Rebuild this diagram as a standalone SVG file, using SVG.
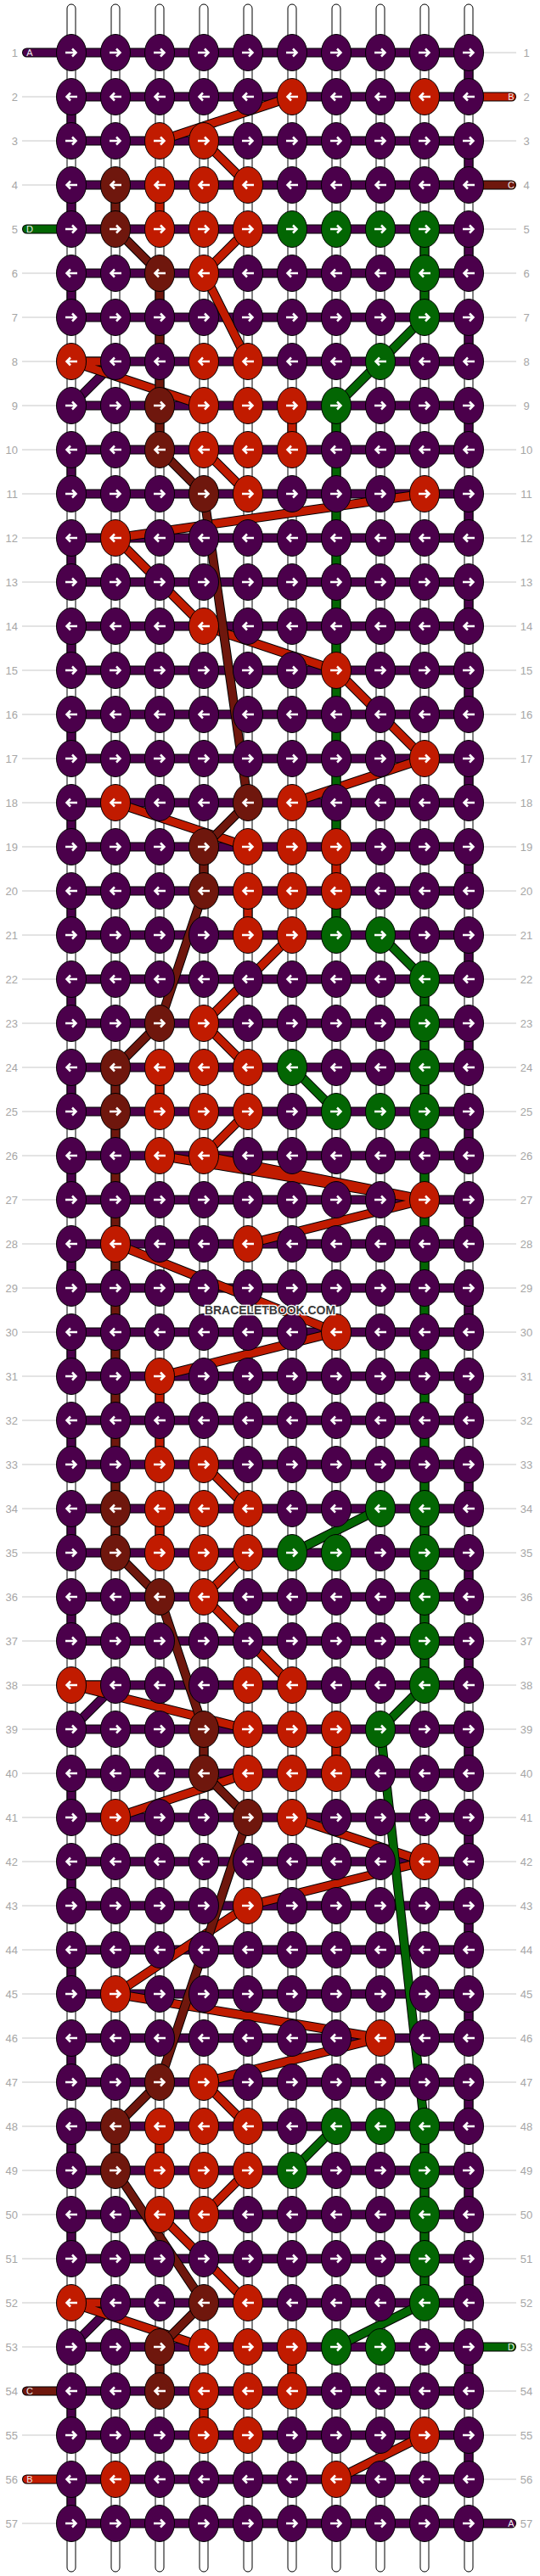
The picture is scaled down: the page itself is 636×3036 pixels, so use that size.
<svg xmlns="http://www.w3.org/2000/svg" xmlns:xlink="http://www.w3.org/1999/xlink" width="636" height="3036" viewBox="0 0 636 3036">
<style>
.num{font-family:"Liberation Sans",Arial,sans-serif;font-size:13px;fill:#a6a6a6}
.nl{text-anchor:end}
.nr{text-anchor:middle}
.lab{font-family:"Liberation Sans",Arial,sans-serif;font-size:11px;fill:#eee;text-anchor:middle}
.gl{stroke:#c8c8c8;stroke-width:1;fill:none}
.str{fill:#fff;stroke:#000;stroke-width:1}
.o{fill:none;stroke:#000;stroke-width:11}
.f{fill:none;stroke-width:9}
.lo{fill:none;stroke:#000;stroke-width:11;stroke-linecap:round}
.lf{fill:none;stroke-width:9;stroke-linecap:round}
.cP{stroke:#4b004b}.cR{stroke:#c11b00}.cB{stroke:#6f170d}.cG{stroke:#036603}
.ar{fill:none;stroke:#fff;stroke-width:2.5}
.wm{font-family:"Liberation Sans",Arial,sans-serif;font-size:14px;font-weight:bold;fill:#3a3a3a;stroke:#fff;stroke-width:2.5;paint-order:stroke;text-anchor:middle}
</style>
<defs>
<ellipse id="e" rx="17.5" ry="21.5" stroke="#000" stroke-width="1"/>
<path id="ar" class="ar" d="M-7,0H5.5M1,-4.5L5.5,0L1,4.5"/>
<path id="al" class="ar" d="M7,0H-5.5M-1,-4.5L-5.5,0L-1,4.5"/>
<g id="PR"><use href="#e" fill="#4b004b"/><use href="#ar"/></g>
<g id="PL"><use href="#e" fill="#4b004b"/><use href="#al"/></g>
<g id="RR"><use href="#e" fill="#c11b00"/><use href="#ar"/></g>
<g id="RL"><use href="#e" fill="#c11b00"/><use href="#al"/></g>
<g id="BR"><use href="#e" fill="#6f170d"/><use href="#ar"/></g>
<g id="BL"><use href="#e" fill="#6f170d"/><use href="#al"/></g>
<g id="GR"><use href="#e" fill="#036603"/><use href="#ar"/></g>
<g id="GL"><use href="#e" fill="#036603"/><use href="#al"/></g>
</defs>
<rect width="636" height="3036" fill="#fff"/>
<g id="guides">
<path class="gl" d="M26,114H66M26,166H66M26,218H66M26,322H66M26,374H66M26,426H66M26,478H66M26,530H66M26,582H66M26,634H66M26,686H66M26,738H66M26,790H66M26,842H66M26,894H66M26,946H66M26,998H66M26,1050H66M26,1102H66M26,1154H66M26,1206H66M26,1258H66M26,1310H66M26,1362H66M26,1414H66M26,1466H66M26,1518H66M26,1570H66M26,1622H66M26,1674H66M26,1726H66M26,1778H66M26,1830H66M26,1882H66M26,1934H66M26,1986H66M26,2038H66M26,2090H66M26,2142H66M26,2194H66M26,2246H66M26,2298H66M26,2350H66M26,2402H66M26,2454H66M26,2506H66M26,2558H66M26,2610H66M26,2662H66M26,2714H66M26,2766H66M26,2870H66M26,2974H66"/>
<path class="gl" d="M570,62H608M570,166H608M570,270H608M570,322H608M570,374H608M570,426H608M570,478H608M570,530H608M570,582H608M570,634H608M570,686H608M570,738H608M570,790H608M570,842H608M570,894H608M570,946H608M570,998H608M570,1050H608M570,1102H608M570,1154H608M570,1206H608M570,1258H608M570,1310H608M570,1362H608M570,1414H608M570,1466H608M570,1518H608M570,1570H608M570,1622H608M570,1674H608M570,1726H608M570,1778H608M570,1830H608M570,1882H608M570,1934H608M570,1986H608M570,2038H608M570,2090H608M570,2142H608M570,2194H608M570,2246H608M570,2298H608M570,2350H608M570,2402H608M570,2454H608M570,2506H608M570,2558H608M570,2610H608M570,2662H608M570,2714H608M570,2818H608M570,2870H608M570,2922H608"/>
</g>
<g id="strings">
<rect class="str" x="79" y="5" width="10" height="3026" rx="5"/>
<rect class="str" x="131" y="5" width="10" height="3026" rx="5"/>
<rect class="str" x="183" y="5" width="10" height="3026" rx="5"/>
<rect class="str" x="235" y="5" width="10" height="3026" rx="5"/>
<rect class="str" x="287" y="5" width="10" height="3026" rx="5"/>
<rect class="str" x="339" y="5" width="10" height="3026" rx="5"/>
<rect class="str" x="391" y="5" width="10" height="3026" rx="5"/>
<rect class="str" x="443" y="5" width="10" height="3026" rx="5"/>
<rect class="str" x="495" y="5" width="10" height="3026" rx="5"/>
<rect class="str" x="547" y="5" width="10" height="3026" rx="5"/>
</g>
<g id="connectors">
<path class="o" d="M84,62H552M84,114H552M84,166H552M84,218H552M84,270H552M84,322H552M84,374H552M84,426H552M84,478H552M84,530H552M84,582H552M84,634H552M84,686H552M84,738H552M84,790H552M84,842H552M84,894H552M84,946H552M84,998H552M84,1050H552M84,1102H552M84,1154H552M84,1206H552M84,1258H552M84,1310H552M84,1362H552M84,1414H552M84,1466H552M84,1518H552M84,1570H552M84,1622H552M84,1674H552M84,1726H552M84,1778H552M84,1830H552M84,1882H552M84,1934H552M84,1986H552M84,2038H552M84,2090H552M84,2142H552M84,2194H552M84,2246H552M84,2298H552M84,2350H552M84,2402H552M84,2454H552M84,2506H552M84,2558H552M84,2610H552M84,2662H552M84,2714H552M84,2766H552M84,2818H552M84,2870H552M84,2922H552M84,2974H552"/>
<path class="f cP" d="M84,62H552M84,114H552M84,166H552M84,218H552M84,270H552M84,322H552M84,374H552M84,426H552M84,478H552M84,530H552M84,582H552M84,634H552M84,686H552M84,738H552M84,790H552M84,842H552M84,894H552M84,946H552M84,998H552M84,1050H552M84,1102H552M84,1154H552M84,1206H552M84,1258H552M84,1310H552M84,1362H552M84,1414H552M84,1466H552M84,1518H552M84,1570H552M84,1622H552M84,1674H552M84,1726H552M84,1778H552M84,1830H552M84,1882H552M84,1934H552M84,1986H552M84,2038H552M84,2090H552M84,2142H552M84,2194H552M84,2246H552M84,2298H552M84,2350H552M84,2402H552M84,2454H552M84,2506H552M84,2558H552M84,2610H552M84,2662H552M84,2714H552M84,2766H552M84,2818H552M84,2870H552M84,2922H552M84,2974H552"/>
<g id="turnsA">
<path class="o" d="M552,62V114M552,166V218M552,270V322M552,374V426M552,478V530M552,582V634M552,686V738M552,790V842M552,894V946M552,998V1050M552,1102V1154M552,1206V1258M552,1310V1362M552,1414V1466M552,1518V1570M552,1622V1674M552,1726V1778M552,1830V1882M552,1934V1986M552,2038V2090M552,2142V2194M552,2246V2298M552,2350V2402M552,2454V2506M552,2558V2610M552,2662V2714M552,2766V2818M552,2870V2922M84,114V166M84,218V270M84,322V374M84,530V582M84,634V686M84,738V790M84,842V894M84,946V998M84,1050V1102M84,1154V1206M84,1258V1310M84,1362V1414M84,1466V1518M84,1570V1622M84,1674V1726M84,1778V1830M84,1882V1934M84,2090V2142M84,2194V2246M84,2298V2350M84,2402V2454M84,2506V2558M84,2610V2662M84,2818V2870M84,2922V2974M136,426L84,478M136,1986L84,2038M136,2714L84,2766"/>
<path class="f cP" d="M552,62V114M552,166V218M552,270V322M552,374V426M552,478V530M552,582V634M552,686V738M552,790V842M552,894V946M552,998V1050M552,1102V1154M552,1206V1258M552,1310V1362M552,1414V1466M552,1518V1570M552,1622V1674M552,1726V1778M552,1830V1882M552,1934V1986M552,2038V2090M552,2142V2194M552,2246V2298M552,2350V2402M552,2454V2506M552,2558V2610M552,2662V2714M552,2766V2818M552,2870V2922M84,114V166M84,218V270M84,322V374M84,530V582M84,634V686M84,738V790M84,842V894M84,946V998M84,1050V1102M84,1154V1206M84,1258V1310M84,1362V1414M84,1466V1518M84,1570V1622M84,1674V1726M84,1778V1830M84,1882V1934M84,2090V2142M84,2194V2246M84,2298V2350M84,2402V2454M84,2506V2558M84,2610V2662M84,2818V2870M84,2922V2974M136,426L84,478M136,1986L84,2038M136,2714L84,2766"/>
</g>
<g id="threadB">
<path class="o" d="M344,114L188,166M240,166L292,218M292,270L240,322M240,322L292,426M84,426H136M84,426L240,478M240,530L292,582M500,582L136,634M136,634L240,738M240,738L396,790M396,790L500,894M500,894L344,946M136,946L292,998M344,1102L240,1206M240,1206L292,1258M292,1310L240,1362M188,1362L500,1414M240,1362L500,1414M500,1414L292,1466M136,1466L396,1570M396,1570L188,1622M240,1726L292,1778M292,1830L240,1882M240,1882L344,1986M84,1986H136M84,1986L292,2038M292,2090L136,2142M344,2142L500,2194M500,2194L292,2246M292,2246L136,2350M136,2350L448,2402M448,2402L240,2454M240,2454L292,2506M292,2558L240,2610M188,2610L292,2714M84,2714H136M84,2714L240,2766M500,2870L396,2922M188,218V270M344,478V530M396,998V1050M292,1050V1102M188,1258V1310M188,1622V1726M188,1778V1830M396,2038V2090M188,2506V2558M344,2766V2818M240,2818V2870"/>
<path class="f cR" d="M344,114L188,166M240,166L292,218M292,270L240,322M240,322L292,426M84,426H136M84,426L240,478M240,530L292,582M500,582L136,634M136,634L240,738M240,738L396,790M396,790L500,894M500,894L344,946M136,946L292,998M344,1102L240,1206M240,1206L292,1258M292,1310L240,1362M188,1362L500,1414M240,1362L500,1414M500,1414L292,1466M136,1466L396,1570M396,1570L188,1622M240,1726L292,1778M292,1830L240,1882M240,1882L344,1986M84,1986H136M84,1986L292,2038M292,2090L136,2142M344,2142L500,2194M500,2194L292,2246M292,2246L136,2350M136,2350L448,2402M448,2402L240,2454M240,2454L292,2506M292,2558L240,2610M188,2610L292,2714M84,2714H136M84,2714L240,2766M500,2870L396,2922M188,218V270M344,478V530M396,998V1050M292,1050V1102M188,1258V1310M188,1622V1726M188,1778V1830M396,2038V2090M188,2506V2558M344,2766V2818M240,2818V2870"/>
</g>
<g id="threadC">
<path class="o" d="M136,218V270L188,322V530L240,582L292,946L240,998V1050L188,1206L136,1258V1830L188,1882L240,2038V2090L292,2142L188,2454L136,2506V2558L240,2714L188,2766V2818"/>
<path class="f cB" d="M136,218V270L188,322V530L240,582L292,946L240,998V1050L188,1206L136,1258V1830L188,1882L240,2038V2090L292,2142L188,2454L136,2506V2558L240,2714L188,2766V2818"/>
</g>
<g id="threadD">
<path class="o" d="M500,270V374L448,426L396,478V998M396,1050V1102M448,1102L500,1154V1986M344,1258L396,1310M448,1778L344,1830M500,1986L448,2038L500,2506V2714L396,2766M396,2506L344,2558"/>
<path class="f cG" d="M500,270V374L448,426L396,478V998M396,1050V1102M448,1102L500,1154V1986M344,1258L396,1310M448,1778L344,1830M500,1986L448,2038L500,2506V2714L396,2766M396,2506L344,2558"/>
</g>
<g id="ends">
<path class="lo" d="M31.5,62H84M552,114H602.5M552,218H602.5M31.5,270H84M552,2766H602.5M31.5,2818H84M31.5,2922H84M552,2974H602.5"/>
<path class="lf cP" d="M31.5,62H84M552,2974H602.5"/>
<path class="lf cR" d="M552,114H602.5M31.5,2922H84"/>
<path class="lf cB" d="M552,218H602.5M31.5,2818H84"/>
<path class="lf cG" d="M31.5,270H84M552,2766H602.5"/>
</g>
</g>
<g id="nodes">
<g id="row1">
<g id="n1-1"><use href="#PR" x="84" y="62"/></g><g id="n1-2"><use href="#PR" x="136" y="62"/></g><g id="n1-3"><use href="#PR" x="188" y="62"/></g><g id="n1-4"><use href="#PR" x="240" y="62"/></g><g id="n1-5"><use href="#PR" x="292" y="62"/></g><g id="n1-6"><use href="#PR" x="344" y="62"/></g><g id="n1-7"><use href="#PR" x="396" y="62"/></g><g id="n1-8"><use href="#PR" x="448" y="62"/></g><g id="n1-9"><use href="#PR" x="500" y="62"/></g><g id="n1-10"><use href="#PR" x="552" y="62"/></g>
</g>
<g id="row2">
<g id="n2-1"><use href="#PL" x="84" y="114"/></g><g id="n2-2"><use href="#PL" x="136" y="114"/></g><g id="n2-3"><use href="#PL" x="188" y="114"/></g><g id="n2-4"><use href="#PL" x="240" y="114"/></g><g id="n2-5"><use href="#PL" x="292" y="114"/></g><g id="n2-6"><use href="#RL" x="344" y="114"/></g><g id="n2-7"><use href="#PL" x="396" y="114"/></g><g id="n2-8"><use href="#PL" x="448" y="114"/></g><g id="n2-9"><use href="#RL" x="500" y="114"/></g><g id="n2-10"><use href="#PL" x="552" y="114"/></g>
</g>
<g id="row3">
<g id="n3-1"><use href="#PR" x="84" y="166"/></g><g id="n3-2"><use href="#PR" x="136" y="166"/></g><g id="n3-3"><use href="#RR" x="188" y="166"/></g><g id="n3-4"><use href="#RR" x="240" y="166"/></g><g id="n3-5"><use href="#PR" x="292" y="166"/></g><g id="n3-6"><use href="#PR" x="344" y="166"/></g><g id="n3-7"><use href="#PR" x="396" y="166"/></g><g id="n3-8"><use href="#PR" x="448" y="166"/></g><g id="n3-9"><use href="#PR" x="500" y="166"/></g><g id="n3-10"><use href="#PR" x="552" y="166"/></g>
</g>
<g id="row4">
<g id="n4-1"><use href="#PL" x="84" y="218"/></g><g id="n4-2"><use href="#BL" x="136" y="218"/></g><g id="n4-3"><use href="#RL" x="188" y="218"/></g><g id="n4-4"><use href="#RL" x="240" y="218"/></g><g id="n4-5"><use href="#RL" x="292" y="218"/></g><g id="n4-6"><use href="#PL" x="344" y="218"/></g><g id="n4-7"><use href="#PL" x="396" y="218"/></g><g id="n4-8"><use href="#PL" x="448" y="218"/></g><g id="n4-9"><use href="#PL" x="500" y="218"/></g><g id="n4-10"><use href="#PL" x="552" y="218"/></g>
</g>
<g id="row5">
<g id="n5-1"><use href="#PR" x="84" y="270"/></g><g id="n5-2"><use href="#BR" x="136" y="270"/></g><g id="n5-3"><use href="#RR" x="188" y="270"/></g><g id="n5-4"><use href="#RR" x="240" y="270"/></g><g id="n5-5"><use href="#RR" x="292" y="270"/></g><g id="n5-6"><use href="#GR" x="344" y="270"/></g><g id="n5-7"><use href="#GR" x="396" y="270"/></g><g id="n5-8"><use href="#GR" x="448" y="270"/></g><g id="n5-9"><use href="#GR" x="500" y="270"/></g><g id="n5-10"><use href="#PR" x="552" y="270"/></g>
</g>
<g id="row6">
<g id="n6-1"><use href="#PL" x="84" y="322"/></g><g id="n6-2"><use href="#PL" x="136" y="322"/></g><g id="n6-3"><use href="#BL" x="188" y="322"/></g><g id="n6-4"><use href="#RL" x="240" y="322"/></g><g id="n6-5"><use href="#PL" x="292" y="322"/></g><g id="n6-6"><use href="#PL" x="344" y="322"/></g><g id="n6-7"><use href="#PL" x="396" y="322"/></g><g id="n6-8"><use href="#PL" x="448" y="322"/></g><g id="n6-9"><use href="#GL" x="500" y="322"/></g><g id="n6-10"><use href="#PL" x="552" y="322"/></g>
</g>
<g id="row7">
<g id="n7-1"><use href="#PR" x="84" y="374"/></g><g id="n7-2"><use href="#PR" x="136" y="374"/></g><g id="n7-3"><use href="#PR" x="188" y="374"/></g><g id="n7-4"><use href="#PR" x="240" y="374"/></g><g id="n7-5"><use href="#PR" x="292" y="374"/></g><g id="n7-6"><use href="#PR" x="344" y="374"/></g><g id="n7-7"><use href="#PR" x="396" y="374"/></g><g id="n7-8"><use href="#PR" x="448" y="374"/></g><g id="n7-9"><use href="#GR" x="500" y="374"/></g><g id="n7-10"><use href="#PR" x="552" y="374"/></g>
</g>
<g id="row8">
<g id="n8-1"><use href="#RL" x="84" y="426"/></g><g id="n8-2"><use href="#PL" x="136" y="426"/></g><g id="n8-3"><use href="#PL" x="188" y="426"/></g><g id="n8-4"><use href="#RL" x="240" y="426"/></g><g id="n8-5"><use href="#RL" x="292" y="426"/></g><g id="n8-6"><use href="#PL" x="344" y="426"/></g><g id="n8-7"><use href="#PL" x="396" y="426"/></g><g id="n8-8"><use href="#GL" x="448" y="426"/></g><g id="n8-9"><use href="#PL" x="500" y="426"/></g><g id="n8-10"><use href="#PL" x="552" y="426"/></g>
</g>
<g id="row9">
<g id="n9-1"><use href="#PR" x="84" y="478"/></g><g id="n9-2"><use href="#PR" x="136" y="478"/></g><g id="n9-3"><use href="#BR" x="188" y="478"/></g><g id="n9-4"><use href="#RR" x="240" y="478"/></g><g id="n9-5"><use href="#RR" x="292" y="478"/></g><g id="n9-6"><use href="#RR" x="344" y="478"/></g><g id="n9-7"><use href="#GR" x="396" y="478"/></g><g id="n9-8"><use href="#PR" x="448" y="478"/></g><g id="n9-9"><use href="#PR" x="500" y="478"/></g><g id="n9-10"><use href="#PR" x="552" y="478"/></g>
</g>
<g id="row10">
<g id="n10-1"><use href="#PL" x="84" y="530"/></g><g id="n10-2"><use href="#PL" x="136" y="530"/></g><g id="n10-3"><use href="#BL" x="188" y="530"/></g><g id="n10-4"><use href="#RL" x="240" y="530"/></g><g id="n10-5"><use href="#RL" x="292" y="530"/></g><g id="n10-6"><use href="#RL" x="344" y="530"/></g><g id="n10-7"><use href="#PL" x="396" y="530"/></g><g id="n10-8"><use href="#PL" x="448" y="530"/></g><g id="n10-9"><use href="#PL" x="500" y="530"/></g><g id="n10-10"><use href="#PL" x="552" y="530"/></g>
</g>
<g id="row11">
<g id="n11-1"><use href="#PR" x="84" y="582"/></g><g id="n11-2"><use href="#PR" x="136" y="582"/></g><g id="n11-3"><use href="#PR" x="188" y="582"/></g><g id="n11-4"><use href="#BR" x="240" y="582"/></g><g id="n11-5"><use href="#RR" x="292" y="582"/></g><g id="n11-6"><use href="#PR" x="344" y="582"/></g><g id="n11-7"><use href="#PR" x="396" y="582"/></g><g id="n11-8"><use href="#PR" x="448" y="582"/></g><g id="n11-9"><use href="#RR" x="500" y="582"/></g><g id="n11-10"><use href="#PR" x="552" y="582"/></g>
</g>
<g id="row12">
<g id="n12-1"><use href="#PL" x="84" y="634"/></g><g id="n12-2"><use href="#RL" x="136" y="634"/></g><g id="n12-3"><use href="#PL" x="188" y="634"/></g><g id="n12-4"><use href="#PL" x="240" y="634"/></g><g id="n12-5"><use href="#PL" x="292" y="634"/></g><g id="n12-6"><use href="#PL" x="344" y="634"/></g><g id="n12-7"><use href="#PL" x="396" y="634"/></g><g id="n12-8"><use href="#PL" x="448" y="634"/></g><g id="n12-9"><use href="#PL" x="500" y="634"/></g><g id="n12-10"><use href="#PL" x="552" y="634"/></g>
</g>
<g id="row13">
<g id="n13-1"><use href="#PR" x="84" y="686"/></g><g id="n13-2"><use href="#PR" x="136" y="686"/></g><g id="n13-3"><use href="#PR" x="188" y="686"/></g><g id="n13-4"><use href="#PR" x="240" y="686"/></g><g id="n13-5"><use href="#PR" x="292" y="686"/></g><g id="n13-6"><use href="#PR" x="344" y="686"/></g><g id="n13-7"><use href="#PR" x="396" y="686"/></g><g id="n13-8"><use href="#PR" x="448" y="686"/></g><g id="n13-9"><use href="#PR" x="500" y="686"/></g><g id="n13-10"><use href="#PR" x="552" y="686"/></g>
</g>
<g id="row14">
<g id="n14-1"><use href="#PL" x="84" y="738"/></g><g id="n14-2"><use href="#PL" x="136" y="738"/></g><g id="n14-3"><use href="#PL" x="188" y="738"/></g><g id="n14-4"><use href="#RL" x="240" y="738"/></g><g id="n14-5"><use href="#PL" x="292" y="738"/></g><g id="n14-6"><use href="#PL" x="344" y="738"/></g><g id="n14-7"><use href="#PL" x="396" y="738"/></g><g id="n14-8"><use href="#PL" x="448" y="738"/></g><g id="n14-9"><use href="#PL" x="500" y="738"/></g><g id="n14-10"><use href="#PL" x="552" y="738"/></g>
</g>
<g id="row15">
<g id="n15-1"><use href="#PR" x="84" y="790"/></g><g id="n15-2"><use href="#PR" x="136" y="790"/></g><g id="n15-3"><use href="#PR" x="188" y="790"/></g><g id="n15-4"><use href="#PR" x="240" y="790"/></g><g id="n15-5"><use href="#PR" x="292" y="790"/></g><g id="n15-6"><use href="#PR" x="344" y="790"/></g><g id="n15-7"><use href="#RR" x="396" y="790"/></g><g id="n15-8"><use href="#PR" x="448" y="790"/></g><g id="n15-9"><use href="#PR" x="500" y="790"/></g><g id="n15-10"><use href="#PR" x="552" y="790"/></g>
</g>
<g id="row16">
<g id="n16-1"><use href="#PL" x="84" y="842"/></g><g id="n16-2"><use href="#PL" x="136" y="842"/></g><g id="n16-3"><use href="#PL" x="188" y="842"/></g><g id="n16-4"><use href="#PL" x="240" y="842"/></g><g id="n16-5"><use href="#PL" x="292" y="842"/></g><g id="n16-6"><use href="#PL" x="344" y="842"/></g><g id="n16-7"><use href="#PL" x="396" y="842"/></g><g id="n16-8"><use href="#PL" x="448" y="842"/></g><g id="n16-9"><use href="#PL" x="500" y="842"/></g><g id="n16-10"><use href="#PL" x="552" y="842"/></g>
</g>
<g id="row17">
<g id="n17-1"><use href="#PR" x="84" y="894"/></g><g id="n17-2"><use href="#PR" x="136" y="894"/></g><g id="n17-3"><use href="#PR" x="188" y="894"/></g><g id="n17-4"><use href="#PR" x="240" y="894"/></g><g id="n17-5"><use href="#PR" x="292" y="894"/></g><g id="n17-6"><use href="#PR" x="344" y="894"/></g><g id="n17-7"><use href="#PR" x="396" y="894"/></g><g id="n17-8"><use href="#PR" x="448" y="894"/></g><g id="n17-9"><use href="#RR" x="500" y="894"/></g><g id="n17-10"><use href="#PR" x="552" y="894"/></g>
</g>
<g id="row18">
<g id="n18-1"><use href="#PL" x="84" y="946"/></g><g id="n18-2"><use href="#RL" x="136" y="946"/></g><g id="n18-3"><use href="#PL" x="188" y="946"/></g><g id="n18-4"><use href="#PL" x="240" y="946"/></g><g id="n18-5"><use href="#BL" x="292" y="946"/></g><g id="n18-6"><use href="#RL" x="344" y="946"/></g><g id="n18-7"><use href="#PL" x="396" y="946"/></g><g id="n18-8"><use href="#PL" x="448" y="946"/></g><g id="n18-9"><use href="#PL" x="500" y="946"/></g><g id="n18-10"><use href="#PL" x="552" y="946"/></g>
</g>
<g id="row19">
<g id="n19-1"><use href="#PR" x="84" y="998"/></g><g id="n19-2"><use href="#PR" x="136" y="998"/></g><g id="n19-3"><use href="#PR" x="188" y="998"/></g><g id="n19-4"><use href="#BR" x="240" y="998"/></g><g id="n19-5"><use href="#RR" x="292" y="998"/></g><g id="n19-6"><use href="#RR" x="344" y="998"/></g><g id="n19-7"><use href="#RR" x="396" y="998"/></g><g id="n19-8"><use href="#PR" x="448" y="998"/></g><g id="n19-9"><use href="#PR" x="500" y="998"/></g><g id="n19-10"><use href="#PR" x="552" y="998"/></g>
</g>
<g id="row20">
<g id="n20-1"><use href="#PL" x="84" y="1050"/></g><g id="n20-2"><use href="#PL" x="136" y="1050"/></g><g id="n20-3"><use href="#PL" x="188" y="1050"/></g><g id="n20-4"><use href="#BL" x="240" y="1050"/></g><g id="n20-5"><use href="#RL" x="292" y="1050"/></g><g id="n20-6"><use href="#RL" x="344" y="1050"/></g><g id="n20-7"><use href="#RL" x="396" y="1050"/></g><g id="n20-8"><use href="#PL" x="448" y="1050"/></g><g id="n20-9"><use href="#PL" x="500" y="1050"/></g><g id="n20-10"><use href="#PL" x="552" y="1050"/></g>
</g>
<g id="row21">
<g id="n21-1"><use href="#PR" x="84" y="1102"/></g><g id="n21-2"><use href="#PR" x="136" y="1102"/></g><g id="n21-3"><use href="#PR" x="188" y="1102"/></g><g id="n21-4"><use href="#PR" x="240" y="1102"/></g><g id="n21-5"><use href="#RR" x="292" y="1102"/></g><g id="n21-6"><use href="#RR" x="344" y="1102"/></g><g id="n21-7"><use href="#GR" x="396" y="1102"/></g><g id="n21-8"><use href="#GR" x="448" y="1102"/></g><g id="n21-9"><use href="#PR" x="500" y="1102"/></g><g id="n21-10"><use href="#PR" x="552" y="1102"/></g>
</g>
<g id="row22">
<g id="n22-1"><use href="#PL" x="84" y="1154"/></g><g id="n22-2"><use href="#PL" x="136" y="1154"/></g><g id="n22-3"><use href="#PL" x="188" y="1154"/></g><g id="n22-4"><use href="#PL" x="240" y="1154"/></g><g id="n22-5"><use href="#PL" x="292" y="1154"/></g><g id="n22-6"><use href="#PL" x="344" y="1154"/></g><g id="n22-7"><use href="#PL" x="396" y="1154"/></g><g id="n22-8"><use href="#PL" x="448" y="1154"/></g><g id="n22-9"><use href="#GL" x="500" y="1154"/></g><g id="n22-10"><use href="#PL" x="552" y="1154"/></g>
</g>
<g id="row23">
<g id="n23-1"><use href="#PR" x="84" y="1206"/></g><g id="n23-2"><use href="#PR" x="136" y="1206"/></g><g id="n23-3"><use href="#BR" x="188" y="1206"/></g><g id="n23-4"><use href="#RR" x="240" y="1206"/></g><g id="n23-5"><use href="#PR" x="292" y="1206"/></g><g id="n23-6"><use href="#PR" x="344" y="1206"/></g><g id="n23-7"><use href="#PR" x="396" y="1206"/></g><g id="n23-8"><use href="#PR" x="448" y="1206"/></g><g id="n23-9"><use href="#GR" x="500" y="1206"/></g><g id="n23-10"><use href="#PR" x="552" y="1206"/></g>
</g>
<g id="row24">
<g id="n24-1"><use href="#PL" x="84" y="1258"/></g><g id="n24-2"><use href="#BL" x="136" y="1258"/></g><g id="n24-3"><use href="#RL" x="188" y="1258"/></g><g id="n24-4"><use href="#RL" x="240" y="1258"/></g><g id="n24-5"><use href="#RL" x="292" y="1258"/></g><g id="n24-6"><use href="#GL" x="344" y="1258"/></g><g id="n24-7"><use href="#PL" x="396" y="1258"/></g><g id="n24-8"><use href="#PL" x="448" y="1258"/></g><g id="n24-9"><use href="#GL" x="500" y="1258"/></g><g id="n24-10"><use href="#PL" x="552" y="1258"/></g>
</g>
<g id="row25">
<g id="n25-1"><use href="#PR" x="84" y="1310"/></g><g id="n25-2"><use href="#BR" x="136" y="1310"/></g><g id="n25-3"><use href="#RR" x="188" y="1310"/></g><g id="n25-4"><use href="#RR" x="240" y="1310"/></g><g id="n25-5"><use href="#RR" x="292" y="1310"/></g><g id="n25-6"><use href="#PR" x="344" y="1310"/></g><g id="n25-7"><use href="#GR" x="396" y="1310"/></g><g id="n25-8"><use href="#GR" x="448" y="1310"/></g><g id="n25-9"><use href="#GR" x="500" y="1310"/></g><g id="n25-10"><use href="#PR" x="552" y="1310"/></g>
</g>
<g id="row26">
<g id="n26-1"><use href="#PL" x="84" y="1362"/></g><g id="n26-2"><use href="#PL" x="136" y="1362"/></g><g id="n26-3"><use href="#RL" x="188" y="1362"/></g><g id="n26-4"><use href="#RL" x="240" y="1362"/></g><g id="n26-5"><use href="#PL" x="292" y="1362"/></g><g id="n26-6"><use href="#PL" x="344" y="1362"/></g><g id="n26-7"><use href="#PL" x="396" y="1362"/></g><g id="n26-8"><use href="#PL" x="448" y="1362"/></g><g id="n26-9"><use href="#PL" x="500" y="1362"/></g><g id="n26-10"><use href="#PL" x="552" y="1362"/></g>
</g>
<g id="row27">
<g id="n27-1"><use href="#PR" x="84" y="1414"/></g><g id="n27-2"><use href="#PR" x="136" y="1414"/></g><g id="n27-3"><use href="#PR" x="188" y="1414"/></g><g id="n27-4"><use href="#PR" x="240" y="1414"/></g><g id="n27-5"><use href="#PR" x="292" y="1414"/></g><g id="n27-6"><use href="#PR" x="344" y="1414"/></g><g id="n27-7"><use href="#PR" x="396" y="1414"/></g><g id="n27-8"><use href="#PR" x="448" y="1414"/></g><g id="n27-9"><use href="#RR" x="500" y="1414"/></g><g id="n27-10"><use href="#PR" x="552" y="1414"/></g>
</g>
<g id="row28">
<g id="n28-1"><use href="#PL" x="84" y="1466"/></g><g id="n28-2"><use href="#RL" x="136" y="1466"/></g><g id="n28-3"><use href="#PL" x="188" y="1466"/></g><g id="n28-4"><use href="#PL" x="240" y="1466"/></g><g id="n28-5"><use href="#RL" x="292" y="1466"/></g><g id="n28-6"><use href="#PL" x="344" y="1466"/></g><g id="n28-7"><use href="#PL" x="396" y="1466"/></g><g id="n28-8"><use href="#PL" x="448" y="1466"/></g><g id="n28-9"><use href="#PL" x="500" y="1466"/></g><g id="n28-10"><use href="#PL" x="552" y="1466"/></g>
</g>
<g id="row29">
<g id="n29-1"><use href="#PR" x="84" y="1518"/></g><g id="n29-2"><use href="#PR" x="136" y="1518"/></g><g id="n29-3"><use href="#PR" x="188" y="1518"/></g><g id="n29-4"><use href="#PR" x="240" y="1518"/></g><g id="n29-5"><use href="#PR" x="292" y="1518"/></g><g id="n29-6"><use href="#PR" x="344" y="1518"/></g><g id="n29-7"><use href="#PR" x="396" y="1518"/></g><g id="n29-8"><use href="#PR" x="448" y="1518"/></g><g id="n29-9"><use href="#PR" x="500" y="1518"/></g><g id="n29-10"><use href="#PR" x="552" y="1518"/></g>
</g>
<g id="row30">
<g id="n30-1"><use href="#PL" x="84" y="1570"/></g><g id="n30-2"><use href="#PL" x="136" y="1570"/></g><g id="n30-3"><use href="#PL" x="188" y="1570"/></g><g id="n30-4"><use href="#PL" x="240" y="1570"/></g><g id="n30-5"><use href="#PL" x="292" y="1570"/></g><g id="n30-6"><use href="#PL" x="344" y="1570"/></g><g id="n30-7"><use href="#RL" x="396" y="1570"/></g><g id="n30-8"><use href="#PL" x="448" y="1570"/></g><g id="n30-9"><use href="#PL" x="500" y="1570"/></g><g id="n30-10"><use href="#PL" x="552" y="1570"/></g>
</g>
<g id="row31">
<g id="n31-1"><use href="#PR" x="84" y="1622"/></g><g id="n31-2"><use href="#PR" x="136" y="1622"/></g><g id="n31-3"><use href="#RR" x="188" y="1622"/></g><g id="n31-4"><use href="#PR" x="240" y="1622"/></g><g id="n31-5"><use href="#PR" x="292" y="1622"/></g><g id="n31-6"><use href="#PR" x="344" y="1622"/></g><g id="n31-7"><use href="#PR" x="396" y="1622"/></g><g id="n31-8"><use href="#PR" x="448" y="1622"/></g><g id="n31-9"><use href="#PR" x="500" y="1622"/></g><g id="n31-10"><use href="#PR" x="552" y="1622"/></g>
</g>
<g id="row32">
<g id="n32-1"><use href="#PL" x="84" y="1674"/></g><g id="n32-2"><use href="#PL" x="136" y="1674"/></g><g id="n32-3"><use href="#PL" x="188" y="1674"/></g><g id="n32-4"><use href="#PL" x="240" y="1674"/></g><g id="n32-5"><use href="#PL" x="292" y="1674"/></g><g id="n32-6"><use href="#PL" x="344" y="1674"/></g><g id="n32-7"><use href="#PL" x="396" y="1674"/></g><g id="n32-8"><use href="#PL" x="448" y="1674"/></g><g id="n32-9"><use href="#PL" x="500" y="1674"/></g><g id="n32-10"><use href="#PL" x="552" y="1674"/></g>
</g>
<g id="row33">
<g id="n33-1"><use href="#PR" x="84" y="1726"/></g><g id="n33-2"><use href="#PR" x="136" y="1726"/></g><g id="n33-3"><use href="#RR" x="188" y="1726"/></g><g id="n33-4"><use href="#RR" x="240" y="1726"/></g><g id="n33-5"><use href="#PR" x="292" y="1726"/></g><g id="n33-6"><use href="#PR" x="344" y="1726"/></g><g id="n33-7"><use href="#PR" x="396" y="1726"/></g><g id="n33-8"><use href="#PR" x="448" y="1726"/></g><g id="n33-9"><use href="#PR" x="500" y="1726"/></g><g id="n33-10"><use href="#PR" x="552" y="1726"/></g>
</g>
<g id="row34">
<g id="n34-1"><use href="#PL" x="84" y="1778"/></g><g id="n34-2"><use href="#BL" x="136" y="1778"/></g><g id="n34-3"><use href="#RL" x="188" y="1778"/></g><g id="n34-4"><use href="#RL" x="240" y="1778"/></g><g id="n34-5"><use href="#RL" x="292" y="1778"/></g><g id="n34-6"><use href="#PL" x="344" y="1778"/></g><g id="n34-7"><use href="#PL" x="396" y="1778"/></g><g id="n34-8"><use href="#GL" x="448" y="1778"/></g><g id="n34-9"><use href="#GL" x="500" y="1778"/></g><g id="n34-10"><use href="#PL" x="552" y="1778"/></g>
</g>
<g id="row35">
<g id="n35-1"><use href="#PR" x="84" y="1830"/></g><g id="n35-2"><use href="#BR" x="136" y="1830"/></g><g id="n35-3"><use href="#RR" x="188" y="1830"/></g><g id="n35-4"><use href="#RR" x="240" y="1830"/></g><g id="n35-5"><use href="#RR" x="292" y="1830"/></g><g id="n35-6"><use href="#GR" x="344" y="1830"/></g><g id="n35-7"><use href="#GR" x="396" y="1830"/></g><g id="n35-8"><use href="#PR" x="448" y="1830"/></g><g id="n35-9"><use href="#GR" x="500" y="1830"/></g><g id="n35-10"><use href="#PR" x="552" y="1830"/></g>
</g>
<g id="row36">
<g id="n36-1"><use href="#PL" x="84" y="1882"/></g><g id="n36-2"><use href="#PL" x="136" y="1882"/></g><g id="n36-3"><use href="#BL" x="188" y="1882"/></g><g id="n36-4"><use href="#RL" x="240" y="1882"/></g><g id="n36-5"><use href="#PL" x="292" y="1882"/></g><g id="n36-6"><use href="#PL" x="344" y="1882"/></g><g id="n36-7"><use href="#PL" x="396" y="1882"/></g><g id="n36-8"><use href="#PL" x="448" y="1882"/></g><g id="n36-9"><use href="#GL" x="500" y="1882"/></g><g id="n36-10"><use href="#PL" x="552" y="1882"/></g>
</g>
<g id="row37">
<g id="n37-1"><use href="#PR" x="84" y="1934"/></g><g id="n37-2"><use href="#PR" x="136" y="1934"/></g><g id="n37-3"><use href="#PR" x="188" y="1934"/></g><g id="n37-4"><use href="#PR" x="240" y="1934"/></g><g id="n37-5"><use href="#PR" x="292" y="1934"/></g><g id="n37-6"><use href="#PR" x="344" y="1934"/></g><g id="n37-7"><use href="#PR" x="396" y="1934"/></g><g id="n37-8"><use href="#PR" x="448" y="1934"/></g><g id="n37-9"><use href="#GR" x="500" y="1934"/></g><g id="n37-10"><use href="#PR" x="552" y="1934"/></g>
</g>
<g id="row38">
<g id="n38-1"><use href="#RL" x="84" y="1986"/></g><g id="n38-2"><use href="#PL" x="136" y="1986"/></g><g id="n38-3"><use href="#PL" x="188" y="1986"/></g><g id="n38-4"><use href="#PL" x="240" y="1986"/></g><g id="n38-5"><use href="#RL" x="292" y="1986"/></g><g id="n38-6"><use href="#RL" x="344" y="1986"/></g><g id="n38-7"><use href="#PL" x="396" y="1986"/></g><g id="n38-8"><use href="#PL" x="448" y="1986"/></g><g id="n38-9"><use href="#GL" x="500" y="1986"/></g><g id="n38-10"><use href="#PL" x="552" y="1986"/></g>
</g>
<g id="row39">
<g id="n39-1"><use href="#PR" x="84" y="2038"/></g><g id="n39-2"><use href="#PR" x="136" y="2038"/></g><g id="n39-3"><use href="#PR" x="188" y="2038"/></g><g id="n39-4"><use href="#BR" x="240" y="2038"/></g><g id="n39-5"><use href="#RR" x="292" y="2038"/></g><g id="n39-6"><use href="#RR" x="344" y="2038"/></g><g id="n39-7"><use href="#RR" x="396" y="2038"/></g><g id="n39-8"><use href="#GR" x="448" y="2038"/></g><g id="n39-9"><use href="#PR" x="500" y="2038"/></g><g id="n39-10"><use href="#PR" x="552" y="2038"/></g>
</g>
<g id="row40">
<g id="n40-1"><use href="#PL" x="84" y="2090"/></g><g id="n40-2"><use href="#PL" x="136" y="2090"/></g><g id="n40-3"><use href="#PL" x="188" y="2090"/></g><g id="n40-4"><use href="#BL" x="240" y="2090"/></g><g id="n40-5"><use href="#RL" x="292" y="2090"/></g><g id="n40-6"><use href="#RL" x="344" y="2090"/></g><g id="n40-7"><use href="#RL" x="396" y="2090"/></g><g id="n40-8"><use href="#PL" x="448" y="2090"/></g><g id="n40-9"><use href="#PL" x="500" y="2090"/></g><g id="n40-10"><use href="#PL" x="552" y="2090"/></g>
</g>
<g id="row41">
<g id="n41-1"><use href="#PR" x="84" y="2142"/></g><g id="n41-2"><use href="#RR" x="136" y="2142"/></g><g id="n41-3"><use href="#PR" x="188" y="2142"/></g><g id="n41-4"><use href="#PR" x="240" y="2142"/></g><g id="n41-5"><use href="#BR" x="292" y="2142"/></g><g id="n41-6"><use href="#RR" x="344" y="2142"/></g><g id="n41-7"><use href="#PR" x="396" y="2142"/></g><g id="n41-8"><use href="#PR" x="448" y="2142"/></g><g id="n41-9"><use href="#PR" x="500" y="2142"/></g><g id="n41-10"><use href="#PR" x="552" y="2142"/></g>
</g>
<g id="row42">
<g id="n42-1"><use href="#PL" x="84" y="2194"/></g><g id="n42-2"><use href="#PL" x="136" y="2194"/></g><g id="n42-3"><use href="#PL" x="188" y="2194"/></g><g id="n42-4"><use href="#PL" x="240" y="2194"/></g><g id="n42-5"><use href="#PL" x="292" y="2194"/></g><g id="n42-6"><use href="#PL" x="344" y="2194"/></g><g id="n42-7"><use href="#PL" x="396" y="2194"/></g><g id="n42-8"><use href="#PL" x="448" y="2194"/></g><g id="n42-9"><use href="#RL" x="500" y="2194"/></g><g id="n42-10"><use href="#PL" x="552" y="2194"/></g>
</g>
<g id="row43">
<g id="n43-1"><use href="#PR" x="84" y="2246"/></g><g id="n43-2"><use href="#PR" x="136" y="2246"/></g><g id="n43-3"><use href="#PR" x="188" y="2246"/></g><g id="n43-4"><use href="#PR" x="240" y="2246"/></g><g id="n43-5"><use href="#RR" x="292" y="2246"/></g><g id="n43-6"><use href="#PR" x="344" y="2246"/></g><g id="n43-7"><use href="#PR" x="396" y="2246"/></g><g id="n43-8"><use href="#PR" x="448" y="2246"/></g><g id="n43-9"><use href="#PR" x="500" y="2246"/></g><g id="n43-10"><use href="#PR" x="552" y="2246"/></g>
</g>
<g id="row44">
<g id="n44-1"><use href="#PL" x="84" y="2298"/></g><g id="n44-2"><use href="#PL" x="136" y="2298"/></g><g id="n44-3"><use href="#PL" x="188" y="2298"/></g><g id="n44-4"><use href="#PL" x="240" y="2298"/></g><g id="n44-5"><use href="#PL" x="292" y="2298"/></g><g id="n44-6"><use href="#PL" x="344" y="2298"/></g><g id="n44-7"><use href="#PL" x="396" y="2298"/></g><g id="n44-8"><use href="#PL" x="448" y="2298"/></g><g id="n44-9"><use href="#PL" x="500" y="2298"/></g><g id="n44-10"><use href="#PL" x="552" y="2298"/></g>
</g>
<g id="row45">
<g id="n45-1"><use href="#PR" x="84" y="2350"/></g><g id="n45-2"><use href="#RR" x="136" y="2350"/></g><g id="n45-3"><use href="#PR" x="188" y="2350"/></g><g id="n45-4"><use href="#PR" x="240" y="2350"/></g><g id="n45-5"><use href="#PR" x="292" y="2350"/></g><g id="n45-6"><use href="#PR" x="344" y="2350"/></g><g id="n45-7"><use href="#PR" x="396" y="2350"/></g><g id="n45-8"><use href="#PR" x="448" y="2350"/></g><g id="n45-9"><use href="#PR" x="500" y="2350"/></g><g id="n45-10"><use href="#PR" x="552" y="2350"/></g>
</g>
<g id="row46">
<g id="n46-1"><use href="#PL" x="84" y="2402"/></g><g id="n46-2"><use href="#PL" x="136" y="2402"/></g><g id="n46-3"><use href="#PL" x="188" y="2402"/></g><g id="n46-4"><use href="#PL" x="240" y="2402"/></g><g id="n46-5"><use href="#PL" x="292" y="2402"/></g><g id="n46-6"><use href="#PL" x="344" y="2402"/></g><g id="n46-7"><use href="#PL" x="396" y="2402"/></g><g id="n46-8"><use href="#RL" x="448" y="2402"/></g><g id="n46-9"><use href="#PL" x="500" y="2402"/></g><g id="n46-10"><use href="#PL" x="552" y="2402"/></g>
</g>
<g id="row47">
<g id="n47-1"><use href="#PR" x="84" y="2454"/></g><g id="n47-2"><use href="#PR" x="136" y="2454"/></g><g id="n47-3"><use href="#BR" x="188" y="2454"/></g><g id="n47-4"><use href="#RR" x="240" y="2454"/></g><g id="n47-5"><use href="#PR" x="292" y="2454"/></g><g id="n47-6"><use href="#PR" x="344" y="2454"/></g><g id="n47-7"><use href="#PR" x="396" y="2454"/></g><g id="n47-8"><use href="#PR" x="448" y="2454"/></g><g id="n47-9"><use href="#PR" x="500" y="2454"/></g><g id="n47-10"><use href="#PR" x="552" y="2454"/></g>
</g>
<g id="row48">
<g id="n48-1"><use href="#PL" x="84" y="2506"/></g><g id="n48-2"><use href="#BL" x="136" y="2506"/></g><g id="n48-3"><use href="#RL" x="188" y="2506"/></g><g id="n48-4"><use href="#RL" x="240" y="2506"/></g><g id="n48-5"><use href="#RL" x="292" y="2506"/></g><g id="n48-6"><use href="#PL" x="344" y="2506"/></g><g id="n48-7"><use href="#GL" x="396" y="2506"/></g><g id="n48-8"><use href="#GL" x="448" y="2506"/></g><g id="n48-9"><use href="#GL" x="500" y="2506"/></g><g id="n48-10"><use href="#PL" x="552" y="2506"/></g>
</g>
<g id="row49">
<g id="n49-1"><use href="#PR" x="84" y="2558"/></g><g id="n49-2"><use href="#BR" x="136" y="2558"/></g><g id="n49-3"><use href="#RR" x="188" y="2558"/></g><g id="n49-4"><use href="#RR" x="240" y="2558"/></g><g id="n49-5"><use href="#RR" x="292" y="2558"/></g><g id="n49-6"><use href="#GR" x="344" y="2558"/></g><g id="n49-7"><use href="#PR" x="396" y="2558"/></g><g id="n49-8"><use href="#PR" x="448" y="2558"/></g><g id="n49-9"><use href="#GR" x="500" y="2558"/></g><g id="n49-10"><use href="#PR" x="552" y="2558"/></g>
</g>
<g id="row50">
<g id="n50-1"><use href="#PL" x="84" y="2610"/></g><g id="n50-2"><use href="#PL" x="136" y="2610"/></g><g id="n50-3"><use href="#RL" x="188" y="2610"/></g><g id="n50-4"><use href="#RL" x="240" y="2610"/></g><g id="n50-5"><use href="#PL" x="292" y="2610"/></g><g id="n50-6"><use href="#PL" x="344" y="2610"/></g><g id="n50-7"><use href="#PL" x="396" y="2610"/></g><g id="n50-8"><use href="#PL" x="448" y="2610"/></g><g id="n50-9"><use href="#GL" x="500" y="2610"/></g><g id="n50-10"><use href="#PL" x="552" y="2610"/></g>
</g>
<g id="row51">
<g id="n51-1"><use href="#PR" x="84" y="2662"/></g><g id="n51-2"><use href="#PR" x="136" y="2662"/></g><g id="n51-3"><use href="#PR" x="188" y="2662"/></g><g id="n51-4"><use href="#PR" x="240" y="2662"/></g><g id="n51-5"><use href="#PR" x="292" y="2662"/></g><g id="n51-6"><use href="#PR" x="344" y="2662"/></g><g id="n51-7"><use href="#PR" x="396" y="2662"/></g><g id="n51-8"><use href="#PR" x="448" y="2662"/></g><g id="n51-9"><use href="#GR" x="500" y="2662"/></g><g id="n51-10"><use href="#PR" x="552" y="2662"/></g>
</g>
<g id="row52">
<g id="n52-1"><use href="#RL" x="84" y="2714"/></g><g id="n52-2"><use href="#PL" x="136" y="2714"/></g><g id="n52-3"><use href="#PL" x="188" y="2714"/></g><g id="n52-4"><use href="#BL" x="240" y="2714"/></g><g id="n52-5"><use href="#RL" x="292" y="2714"/></g><g id="n52-6"><use href="#PL" x="344" y="2714"/></g><g id="n52-7"><use href="#PL" x="396" y="2714"/></g><g id="n52-8"><use href="#PL" x="448" y="2714"/></g><g id="n52-9"><use href="#GL" x="500" y="2714"/></g><g id="n52-10"><use href="#PL" x="552" y="2714"/></g>
</g>
<g id="row53">
<g id="n53-1"><use href="#PR" x="84" y="2766"/></g><g id="n53-2"><use href="#PR" x="136" y="2766"/></g><g id="n53-3"><use href="#BR" x="188" y="2766"/></g><g id="n53-4"><use href="#RR" x="240" y="2766"/></g><g id="n53-5"><use href="#RR" x="292" y="2766"/></g><g id="n53-6"><use href="#RR" x="344" y="2766"/></g><g id="n53-7"><use href="#GR" x="396" y="2766"/></g><g id="n53-8"><use href="#GR" x="448" y="2766"/></g><g id="n53-9"><use href="#PR" x="500" y="2766"/></g><g id="n53-10"><use href="#PR" x="552" y="2766"/></g>
</g>
<g id="row54">
<g id="n54-1"><use href="#PL" x="84" y="2818"/></g><g id="n54-2"><use href="#PL" x="136" y="2818"/></g><g id="n54-3"><use href="#BL" x="188" y="2818"/></g><g id="n54-4"><use href="#RL" x="240" y="2818"/></g><g id="n54-5"><use href="#RL" x="292" y="2818"/></g><g id="n54-6"><use href="#RL" x="344" y="2818"/></g><g id="n54-7"><use href="#PL" x="396" y="2818"/></g><g id="n54-8"><use href="#PL" x="448" y="2818"/></g><g id="n54-9"><use href="#PL" x="500" y="2818"/></g><g id="n54-10"><use href="#PL" x="552" y="2818"/></g>
</g>
<g id="row55">
<g id="n55-1"><use href="#PR" x="84" y="2870"/></g><g id="n55-2"><use href="#PR" x="136" y="2870"/></g><g id="n55-3"><use href="#PR" x="188" y="2870"/></g><g id="n55-4"><use href="#RR" x="240" y="2870"/></g><g id="n55-5"><use href="#RR" x="292" y="2870"/></g><g id="n55-6"><use href="#PR" x="344" y="2870"/></g><g id="n55-7"><use href="#PR" x="396" y="2870"/></g><g id="n55-8"><use href="#PR" x="448" y="2870"/></g><g id="n55-9"><use href="#RR" x="500" y="2870"/></g><g id="n55-10"><use href="#PR" x="552" y="2870"/></g>
</g>
<g id="row56">
<g id="n56-1"><use href="#PL" x="84" y="2922"/></g><g id="n56-2"><use href="#RL" x="136" y="2922"/></g><g id="n56-3"><use href="#PL" x="188" y="2922"/></g><g id="n56-4"><use href="#PL" x="240" y="2922"/></g><g id="n56-5"><use href="#PL" x="292" y="2922"/></g><g id="n56-6"><use href="#PL" x="344" y="2922"/></g><g id="n56-7"><use href="#RL" x="396" y="2922"/></g><g id="n56-8"><use href="#PL" x="448" y="2922"/></g><g id="n56-9"><use href="#PL" x="500" y="2922"/></g><g id="n56-10"><use href="#PL" x="552" y="2922"/></g>
</g>
<g id="row57">
<g id="n57-1"><use href="#PR" x="84" y="2974"/></g><g id="n57-2"><use href="#PR" x="136" y="2974"/></g><g id="n57-3"><use href="#PR" x="188" y="2974"/></g><g id="n57-4"><use href="#PR" x="240" y="2974"/></g><g id="n57-5"><use href="#PR" x="292" y="2974"/></g><g id="n57-6"><use href="#PR" x="344" y="2974"/></g><g id="n57-7"><use href="#PR" x="396" y="2974"/></g><g id="n57-8"><use href="#PR" x="448" y="2974"/></g><g id="n57-9"><use href="#PR" x="500" y="2974"/></g><g id="n57-10"><use href="#PR" x="552" y="2974"/></g>
</g>
</g>
<g id="threadLabels">
<text class="lab" x="35" y="66">A</text>
<text class="lab" x="602" y="118">B</text>
<text class="lab" x="602" y="222">C</text>
<text class="lab" x="35" y="274">D</text>
<text class="lab" x="602" y="2770">D</text>
<text class="lab" x="35" y="2822">C</text>
<text class="lab" x="35" y="2926">B</text>
<text class="lab" x="602" y="2978">A</text>
</g>
<g id="rowNumbers">
<text class="num nl" x="21" y="66.6">1</text><text class="num nr" x="620" y="66.6">1</text>
<text class="num nl" x="21" y="118.6">2</text><text class="num nr" x="620" y="118.6">2</text>
<text class="num nl" x="21" y="170.6">3</text><text class="num nr" x="620" y="170.6">3</text>
<text class="num nl" x="21" y="222.6">4</text><text class="num nr" x="620" y="222.6">4</text>
<text class="num nl" x="21" y="274.6">5</text><text class="num nr" x="620" y="274.6">5</text>
<text class="num nl" x="21" y="326.6">6</text><text class="num nr" x="620" y="326.6">6</text>
<text class="num nl" x="21" y="378.6">7</text><text class="num nr" x="620" y="378.6">7</text>
<text class="num nl" x="21" y="430.6">8</text><text class="num nr" x="620" y="430.6">8</text>
<text class="num nl" x="21" y="482.6">9</text><text class="num nr" x="620" y="482.6">9</text>
<text class="num nl" x="21" y="534.6">10</text><text class="num nr" x="620" y="534.6">10</text>
<text class="num nl" x="21" y="586.6">11</text><text class="num nr" x="620" y="586.6">11</text>
<text class="num nl" x="21" y="638.6">12</text><text class="num nr" x="620" y="638.6">12</text>
<text class="num nl" x="21" y="690.6">13</text><text class="num nr" x="620" y="690.6">13</text>
<text class="num nl" x="21" y="742.6">14</text><text class="num nr" x="620" y="742.6">14</text>
<text class="num nl" x="21" y="794.6">15</text><text class="num nr" x="620" y="794.6">15</text>
<text class="num nl" x="21" y="846.6">16</text><text class="num nr" x="620" y="846.6">16</text>
<text class="num nl" x="21" y="898.6">17</text><text class="num nr" x="620" y="898.6">17</text>
<text class="num nl" x="21" y="950.6">18</text><text class="num nr" x="620" y="950.6">18</text>
<text class="num nl" x="21" y="1002.6">19</text><text class="num nr" x="620" y="1002.6">19</text>
<text class="num nl" x="21" y="1054.6">20</text><text class="num nr" x="620" y="1054.6">20</text>
<text class="num nl" x="21" y="1106.6">21</text><text class="num nr" x="620" y="1106.6">21</text>
<text class="num nl" x="21" y="1158.6">22</text><text class="num nr" x="620" y="1158.6">22</text>
<text class="num nl" x="21" y="1210.6">23</text><text class="num nr" x="620" y="1210.6">23</text>
<text class="num nl" x="21" y="1262.6">24</text><text class="num nr" x="620" y="1262.6">24</text>
<text class="num nl" x="21" y="1314.6">25</text><text class="num nr" x="620" y="1314.6">25</text>
<text class="num nl" x="21" y="1366.6">26</text><text class="num nr" x="620" y="1366.6">26</text>
<text class="num nl" x="21" y="1418.6">27</text><text class="num nr" x="620" y="1418.6">27</text>
<text class="num nl" x="21" y="1470.6">28</text><text class="num nr" x="620" y="1470.6">28</text>
<text class="num nl" x="21" y="1522.6">29</text><text class="num nr" x="620" y="1522.6">29</text>
<text class="num nl" x="21" y="1574.6">30</text><text class="num nr" x="620" y="1574.6">30</text>
<text class="num nl" x="21" y="1626.6">31</text><text class="num nr" x="620" y="1626.6">31</text>
<text class="num nl" x="21" y="1678.6">32</text><text class="num nr" x="620" y="1678.6">32</text>
<text class="num nl" x="21" y="1730.6">33</text><text class="num nr" x="620" y="1730.6">33</text>
<text class="num nl" x="21" y="1782.6">34</text><text class="num nr" x="620" y="1782.6">34</text>
<text class="num nl" x="21" y="1834.6">35</text><text class="num nr" x="620" y="1834.6">35</text>
<text class="num nl" x="21" y="1886.6">36</text><text class="num nr" x="620" y="1886.6">36</text>
<text class="num nl" x="21" y="1938.6">37</text><text class="num nr" x="620" y="1938.6">37</text>
<text class="num nl" x="21" y="1990.6">38</text><text class="num nr" x="620" y="1990.6">38</text>
<text class="num nl" x="21" y="2042.6">39</text><text class="num nr" x="620" y="2042.6">39</text>
<text class="num nl" x="21" y="2094.6">40</text><text class="num nr" x="620" y="2094.6">40</text>
<text class="num nl" x="21" y="2146.6">41</text><text class="num nr" x="620" y="2146.6">41</text>
<text class="num nl" x="21" y="2198.6">42</text><text class="num nr" x="620" y="2198.6">42</text>
<text class="num nl" x="21" y="2250.6">43</text><text class="num nr" x="620" y="2250.6">43</text>
<text class="num nl" x="21" y="2302.6">44</text><text class="num nr" x="620" y="2302.6">44</text>
<text class="num nl" x="21" y="2354.6">45</text><text class="num nr" x="620" y="2354.6">45</text>
<text class="num nl" x="21" y="2406.6">46</text><text class="num nr" x="620" y="2406.6">46</text>
<text class="num nl" x="21" y="2458.6">47</text><text class="num nr" x="620" y="2458.6">47</text>
<text class="num nl" x="21" y="2510.6">48</text><text class="num nr" x="620" y="2510.6">48</text>
<text class="num nl" x="21" y="2562.6">49</text><text class="num nr" x="620" y="2562.6">49</text>
<text class="num nl" x="21" y="2614.6">50</text><text class="num nr" x="620" y="2614.6">50</text>
<text class="num nl" x="21" y="2666.6">51</text><text class="num nr" x="620" y="2666.6">51</text>
<text class="num nl" x="21" y="2718.6">52</text><text class="num nr" x="620" y="2718.6">52</text>
<text class="num nl" x="21" y="2770.6">53</text><text class="num nr" x="620" y="2770.6">53</text>
<text class="num nl" x="21" y="2822.6">54</text><text class="num nr" x="620" y="2822.6">54</text>
<text class="num nl" x="21" y="2874.6">55</text><text class="num nr" x="620" y="2874.6">55</text>
<text class="num nl" x="21" y="2926.6">56</text><text class="num nr" x="620" y="2926.6">56</text>
<text class="num nl" x="21" y="2978.6">57</text><text class="num nr" x="620" y="2978.6">57</text>
</g>
<text id="watermark" class="wm" x="318" y="1549" textLength="154" lengthAdjust="spacingAndGlyphs">BRACELETBOOK.COM</text>
</svg>
